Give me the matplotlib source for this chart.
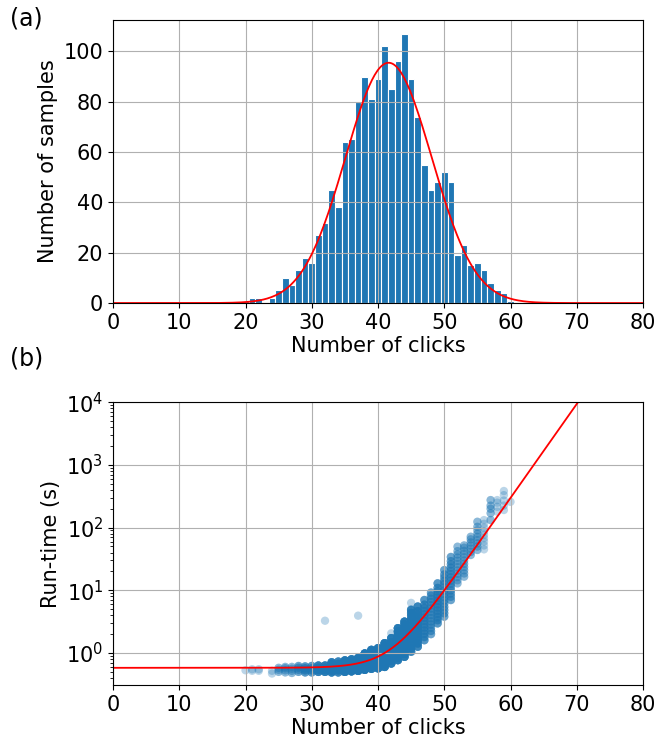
import numpy as np
import matplotlib
matplotlib.use("Agg")
import matplotlib.pyplot as plt

plt.rcParams.update({'font.size': 15})

# histogram: number of samples per click count
clicks = [20, 21, 22, 24, 25, 26, 27, 28, 29, 30, 31, 32, 33, 34, 35, 36, 37, 38, 39, 40,
          41, 42, 43, 44, 45, 46, 47, 48, 49, 50, 51, 52, 53, 54, 55, 56, 57, 58, 59, 60]
samples = [1, 2, 2, 2, 5, 10, 7, 13, 18, 16, 27, 32, 45, 38, 64, 65, 80, 90, 81, 89,
           102, 85, 96, 107, 89, 74, 55, 45, 48, 52, 48, 19, 23, 15, 16, 13, 8, 5, 4, 1]

# gaussian fit
fit_mu = 41.6
fit_sigma = 6.5
fit_amp = 95.5

# run-times (s) per click count
runtimes = {
    20: [0.53],
    21: [0.52, 0.55],
    22: [0.52, 0.55],
    24: [0.47, 0.52],
    25: [0.50, 0.54, 0.58],
    26: [0.49, 0.53, 0.57, 0.60],
    27: [0.48, 0.52, 0.56, 0.60],
    28: [0.50, 0.54, 0.58, 0.62],
    29: [0.49, 0.53, 0.57, 0.61],
    30: [0.49, 0.53, 0.57, 0.62],
    31: [0.50, 0.54, 0.58, 0.63],
    32: [0.50, 0.54, 0.58, 0.63],
    33: [0.49, 0.53, 0.57, 0.61, 0.66, 0.71],
    34: [0.49, 0.53, 0.57, 0.62, 0.67, 0.73],
    35: [0.50, 0.54, 0.59, 0.64, 0.70, 0.76],
    36: [0.51, 0.55, 0.60, 0.66, 0.72, 0.79],
    37: [0.52, 0.57, 0.62, 0.68, 0.75, 0.83],
    38: [0.54, 0.59, 0.65, 0.72, 0.80, 0.90, 0.98],
    39: [0.56, 0.62, 0.69, 0.77, 0.86, 0.96, 1.06, 1.12],
    40: [0.57, 0.63, 0.70, 0.78, 0.87, 0.97, 1.08, 1.19],
    41: [0.60, 0.67, 0.75, 0.84, 0.94, 1.05, 1.17, 1.30, 1.43],
    42: [0.68, 0.76, 0.85, 0.95, 1.06, 1.19, 1.33, 1.49, 1.72],
    43: [0.77, 0.86, 0.97, 1.09, 1.22, 1.37, 1.54, 1.73, 1.95, 2.20, 2.48],
    44: [0.87, 0.98, 1.10, 1.24, 1.40, 1.58, 1.78, 2.00, 2.25, 2.55, 2.85, 3.16],
    45: [1.05, 1.18, 1.33, 1.50, 1.69, 1.90, 2.14, 2.41, 2.71, 3.05, 3.45, 3.90, 4.35, 4.85],
    46: [1.26, 1.42, 1.60, 1.80, 2.03, 2.28, 2.57, 2.90, 3.26, 3.67, 4.13, 4.65, 5.50],
    47: [1.60, 1.80, 2.03, 2.28, 2.57, 2.90, 3.26, 3.67, 4.13, 4.65, 5.25, 5.90, 7.00],
    48: [2.00, 2.25, 2.53, 2.85, 3.20, 3.60, 4.05, 4.56, 5.13, 5.78, 6.50, 7.30, 8.20, 9.20],
    49: [2.97, 3.34, 3.76, 4.23, 4.76, 5.36, 6.03, 6.80, 7.65, 8.60, 9.70, 10.9, 12.9],
    50: [3.8, 4.3, 4.85, 5.45, 6.15, 6.9, 7.8, 8.8, 9.9, 11.1, 12.5, 14.1, 15.9, 17.9, 21.0],
    51: [7.0, 7.9, 8.9, 10.0, 11.3, 12.7, 14.3, 16.1, 18.1, 20.4, 23.0, 25.9, 29.2, 34.0],
    52: [12.9, 14.5, 16.3, 18.4, 20.7, 23.3, 26.2, 29.5, 33.2, 37.4, 42.1, 49.6],
    53: [16.5, 18.6, 20.9, 23.5, 26.5, 29.8, 33.6, 37.8, 42.5, 47.8, 52.0],
    54: [36.6, 41.0, 46.0, 52.0, 58.0, 65.0, 71.5],
    55: [44.0, 50.0, 56.0, 63.0, 71.0, 80.0, 91.0, 103.0, 124.0],
    56: [45.0, 52.0, 60.0, 68.0, 77.0, 87.0, 100.0, 115.0, 132.0],
    57: [132.0, 170.0, 200.0, 224.0, 275.0],
    58: [180.0, 215.0, 250.0, 275.0],
    59: [191.0, 225.0, 270.0, 330.0, 384.0],
    60: [258.0],
}
# single, lightly drawn points
sparse_x = [32, 37, 42, 45, 45]
sparse_y = [3.27, 3.94, 2.06, 5.0, 6.3]

# exponential fit of the run-time: base + scale * 10**(rate * (x - 50))
rt_base = 0.58
rt_scale = 9.4
rt_rate = 0.15


def expand_runtimes():
    # each read value stands for its share of the samples in that column
    xs, ys = [], []
    count = dict(zip(clicks, samples))
    for c, vals in runtimes.items():
        reps = max(1, int(round(count[c] / len(vals))))
        for v in vals:
            xs += [c] * reps
            ys += [v] * reps
    return np.array(xs), np.array(ys)


fig = plt.figure(figsize=(6.57, 7.4), dpi=100)
ax1 = fig.add_axes([0.172, 0.5905, 0.8067, 0.3825])
ax2 = fig.add_axes([0.172, 0.0739, 0.8067, 0.3825])

ax1.bar(clicks, samples, width=1, color='C0', edgecolor='white', linewidth=0.8)
xf = np.linspace(0, 80, 400)
ax1.plot(xf, fit_amp * np.exp(-(xf - fit_mu) ** 2 / (2 * fit_sigma ** 2)), color='red', lw=1.3)
ax1.set_xlim(0, 80)
ax1.set_ylim(0, 112.5)
ax1.set_xticks(range(0, 81, 10))
ax1.set_yticks(range(0, 101, 20))
ax1.grid(True)
ax1.set_xlabel('Number of clicks', labelpad=2)
ax1.set_ylabel('Number of samples')

xs, ys = expand_runtimes()
ax2.scatter(xs, ys, s=36, color='C0', alpha=0.3, edgecolors='none')
ax2.scatter(sparse_x, sparse_y, s=36, color='C0', alpha=0.3, edgecolors='none')
ax2.plot(xf, rt_base + rt_scale * 10 ** (rt_rate * (xf - 50)), color='red', lw=1.3)
ax2.set_yscale('log')
ax2.set_xlim(0, 80)
ax2.set_ylim(0.305, 1e4)
ax2.set_xticks(range(0, 81, 10))
ax2.grid(True)
ax2.set_xlabel('Number of clicks', labelpad=2)
ax2.set_ylabel('Run-time (s)')

fig.text(0.04, 0.975, '(a)', fontsize=17, ha='center', va='center')
fig.text(0.04, 0.516, '(b)', fontsize=17, ha='center', va='center')

fig.savefig('out.png', dpi=100)
